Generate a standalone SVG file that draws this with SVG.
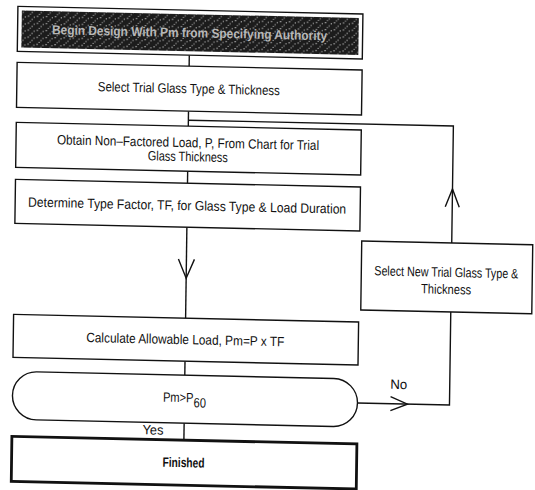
<svg xmlns="http://www.w3.org/2000/svg" width="535" height="490" viewBox="0 0 535 490">
<style>
.box{fill:#fff;stroke:#111;stroke-width:1.4}
.bold{stroke-width:2.8}
.ln{fill:none;stroke:#111;stroke-width:1.4}
text{font-family:"Liberation Sans",Arial,sans-serif;font-size:13.5px;fill:#111;text-anchor:middle}
.ttl{font-weight:bold;fill:#b8b8b8;font-size:13px}
</style>
<defs>
<pattern id="spk" width="9" height="7" patternUnits="userSpaceOnUse">
<rect width="9" height="7" fill="#1c1c1c"/>
<rect x="1" y="1" width="1.5" height="1" fill="#bbb"/>
<rect x="5" y="4" width="1" height="1.5" fill="#999"/>
<rect x="7" y="2" width="1" height="1" fill="#ddd"/>
<rect x="3" y="6" width="1.5" height="1" fill="#888"/>
</pattern>
</defs>
<rect width="535" height="490" fill="#fff"/>
<g transform="matrix(1 0.022 -0.014 1 0 0)">
<g id="connectors">
<line class="ln" x1="190" y1="51" x2="190" y2="62"/>
<line class="ln" x1="190" y1="107" x2="190" y2="122"/>
<polyline class="ln" points="190,116 455,116 455,233"/>
<polyline class="ln" points="448,197 455,179 462,197"/>
<line class="ln" x1="190" y1="167" x2="190" y2="179"/>
<line class="ln" x1="190" y1="223" x2="190" y2="314"/>
<polyline class="ln" points="182,255 190,274 198,255"/>
<line class="ln" x1="190" y1="357" x2="190" y2="371"/>
<line class="ln" x1="190" y1="419" x2="190" y2="436"/>
<polyline class="ln" points="363,395 455,395 455,302"/>
<polyline class="ln" points="396,388 413,395 396,402"/>
<text x="404" y="380" textLength="17" lengthAdjust="spacingAndGlyphs">No</text>
<text x="159" y="431" textLength="21" lengthAdjust="spacingAndGlyphs">Yes</text>
</g>
<g id="start">
<rect class="box" x="18" y="6" width="345" height="45"/>
<rect x="22" y="10" width="337" height="37" fill="url(#spk)"/>
<text class="ttl" x="190" y="33" textLength="275" lengthAdjust="spacingAndGlyphs">Begin Design With Pm from Specifying Authority</text>
</g>
<g id="select-trial">
<rect class="box" x="18" y="62" width="345" height="45"/>
<text x="190" y="89" textLength="182" lengthAdjust="spacingAndGlyphs">Select Trial Glass Type &amp; Thickness</text>
</g>
<g id="obtain-load">
<rect class="box" x="18" y="122" width="345" height="45"/>
<text x="190" y="143" textLength="262" lengthAdjust="spacingAndGlyphs">Obtain Non–Factored Load, P, From Chart for Trial</text>
<text x="190" y="157" textLength="80" lengthAdjust="spacingAndGlyphs">Glass Thickness</text>
</g>
<g id="type-factor">
<rect class="box" x="18" y="179" width="345" height="44"/>
<text x="190" y="206" textLength="318" lengthAdjust="spacingAndGlyphs">Determine Type Factor, TF, for Glass Type &amp; Load Duration</text>
</g>
<g id="calculate">
<rect class="box" x="18" y="314" width="345" height="43"/>
<text x="190" y="340" textLength="198" lengthAdjust="spacingAndGlyphs">Calculate Allowable Load, Pm=P x TF</text>
</g>
<g id="decision">
<rect class="box" x="18" y="371" width="345" height="48" rx="24" ry="24"/>
<text x="190" y="398" textLength="43" lengthAdjust="spacingAndGlyphs">Pm&gt;P<tspan dy="5">60</tspan></text>
</g>
<g id="finished">
<rect class="box bold" x="18" y="436" width="345" height="45"/>
<text x="190" y="463" font-weight="bold" textLength="42" lengthAdjust="spacingAndGlyphs">Finished</text>
</g>
<g id="select-new">
<rect class="box" x="365" y="233" width="171" height="69"/>
<text x="450" y="267" font-size="11.5" textLength="144" lengthAdjust="spacingAndGlyphs">Select New Trial Glass Type &amp;</text>
<text x="450" y="284" textLength="50" lengthAdjust="spacingAndGlyphs">Thickness</text>
</g>
</g>
</svg>
